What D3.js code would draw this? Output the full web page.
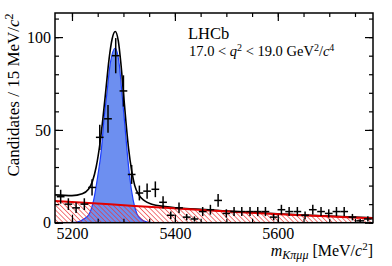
<!DOCTYPE html>
<html>
<head>
<meta charset="utf-8">
<script src="https://cdn.jsdelivr.net/npm/d3@7"></script>
<style>
  body { margin: 0; background: #fff; }
  text { font-family: "Liberation Serif", "DejaVu Serif", serif; fill: #000; }
</style>
</head>
<body>
<div id="chart"></div>
<script>
// bin centres [MeV/c2] and candidates per bin
const massBins = [5178, 5193, 5208, 5224, 5239, 5254, 5270, 5285, 5300, 5316,
                  5331, 5346, 5362, 5377, 5392, 5408, 5423, 5438, 5454, 5469,
                  5484, 5500, 5515, 5530, 5546, 5561, 5576, 5592, 5607, 5622,
                  5638, 5653, 5668, 5684, 5699, 5714, 5729, 5745, 5760, 5775];
const counts = [14, 10, 8, 10, 19, 46, 56, 90, 71, 26,
                16, 17, 18, 11, 4, 8, 3, 2, 6, 7,
                12, 5, 6, 6, 6, 6, 6, 3, 7, 6,
                6, 4, 7, 6, 5, 6, 6, 3, 1, 2];

// fit components as [mass, value]
const signalCurve = [[5196,0],[5212,0.5],[5223,2],[5234,5],[5242,12],[5250,25],[5257,39],
                     [5262,55],[5268,70],[5274,85],[5284,94],[5292,85],[5297,70],[5302,55],
                     [5307,39],[5312,25],[5319,12],[5326,5],[5334,2],[5344,0.5],[5356,0]];
const bkgCurve = [[5167,11.7],[5274,9.9],[5381,8.0],[5488,6.3],[5585,4.8],[5682,3.6],[5785,2.4]];
const totalCurve = [[5167,15],[5200,14.6],[5220,15.6],[5232,18],[5240,22.5],[5247,30],[5254,42],
                    [5260,56],[5266,72],[5272,88],[5278,99],[5284,103],[5290,98],[5295,86],
                    [5300,70],[5305,54],[5310,40],[5316,28],[5322,20],[5330,15],[5340,12],
                    [5355,10],[5381,8.7],[5450,7.2],[5550,5.5],[5650,4.1],[5785,2.7]];

const xTicks = [5200, 5400, 5600];
const yTicks = [0, 50, 100];
const binWidth = 15;

const W = 392, H = 266;
const margin = {top: 13, right: 19, bottom: 43.3, left: 55};
const width = W - margin.left - margin.right,
      height = H - margin.top - margin.bottom;

const svg = d3.select("#chart").append("svg")
  .attr("width", W).attr("height", H)
  .append("g")
  .attr("transform", `translate(${margin.left},${margin.top})`);

const x = d3.scaleLinear().domain([5167, 5785]).range([0, width]);
const y = d3.scaleLinear().domain([0, 113]).range([height, 0]);

// hatch pattern for the background component
const defs = svg.append("defs");
defs.append("pattern")
  .attr("id", "hatch")
  .attr("patternUnits", "userSpaceOnUse")
  .attr("width", 3.4).attr("height", 3.4)
  .attr("patternTransform", "rotate(-45)")
  .append("line")
  .attr("x1", 0).attr("y1", 0).attr("x2", 0).attr("y2", 3.4)
  .attr("stroke", "#f03030").attr("stroke-width", 1.3);
defs.append("clipPath").attr("id", "clip")
  .append("rect").attr("width", width).attr("height", height);

const plot = svg.append("g").attr("clip-path", "url(#clip)");

// signal (blue)
plot.append("path")
  .datum(signalCurve)
  .attr("d", d3.area().x(d => x(d[0])).y0(y(0)).y1(d => y(d[1])).curve(d3.curveMonotoneX))
  .attr("fill", "#6d8ff0");
plot.append("path")
  .datum(signalCurve)
  .attr("d", d3.line().x(d => x(d[0])).y(d => y(d[1])).curve(d3.curveMonotoneX))
  .attr("fill", "none").attr("stroke", "#1a3cff").attr("stroke-width", 1.2);

// background (hatched red)
plot.append("path")
  .datum(bkgCurve)
  .attr("d", d3.area().x(d => x(d[0])).y0(y(0)).y1(d => y(d[1])).curve(d3.curveMonotoneX))
  .attr("fill", "url(#hatch)");

// total fit (black)
plot.append("path")
  .datum(totalCurve)
  .attr("d", d3.line().x(d => x(d[0])).y(d => y(d[1])).curve(d3.curveMonotoneX))
  .attr("fill", "none").attr("stroke", "#000").attr("stroke-width", 1.6);

plot.append("path")
  .datum(bkgCurve)
  .attr("d", d3.line().x(d => x(d[0])).y(d => y(d[1])).curve(d3.curveMonotoneX))
  .attr("fill", "none").attr("stroke", "#e00000").attr("stroke-width", 2);

// data points with sqrt(N) errors
const pts = svg.append("g").selectAll("g")
  .data(massBins.map((m, i) => ({m: m, n: counts[i]})))
  .enter().append("g")
  .attr("stroke", "#000").attr("stroke-width", 1.5);
pts.append("line")
  .attr("x1", d => x(d.m - binWidth / 2)).attr("x2", d => x(d.m + binWidth / 2))
  .attr("y1", d => y(d.n)).attr("y2", d => y(d.n));
pts.append("line")
  .attr("x1", d => x(d.m)).attr("x2", d => x(d.m))
  .attr("y1", d => y(d.n + Math.sqrt(d.n))).attr("y2", d => y(Math.max(0, d.n - Math.sqrt(d.n))));

// axes: ticks inside on all four sides
function styleAxis(g) {
  g.select(".domain").remove();
  g.selectAll("line").attr("stroke", "#000").attr("stroke-width", 1.2);
  g.selectAll("text").style("font-family", "Liberation Serif").style("font-size", "16px");
}
const xMinor = d3.range(5200, 5786, 50);
const yMinor = d3.range(0, 114, 10);

svg.append("g").attr("transform", `translate(0,${height})`)
  .call(d3.axisBottom(x).tickValues(xMinor).tickSize(-4).tickFormat("")).call(styleAxis);
svg.append("g").attr("transform", `translate(0,${height})`)
  .call(d3.axisBottom(x).tickValues(xTicks).tickSize(-8).tickPadding(5).tickFormat(d3.format("d"))).call(styleAxis);
svg.append("g")
  .call(d3.axisTop(x).tickValues(xMinor).tickSize(-4).tickFormat("")).call(styleAxis);
svg.append("g")
  .call(d3.axisTop(x).tickValues(xTicks).tickSize(-8).tickFormat("")).call(styleAxis);

svg.append("g")
  .call(d3.axisLeft(y).tickValues(yMinor).tickSize(-4).tickFormat("")).call(styleAxis);
svg.append("g")
  .call(d3.axisLeft(y).tickValues(yTicks).tickSize(-8).tickPadding(4)).call(styleAxis);
svg.append("g").attr("transform", `translate(${width},0)`)
  .call(d3.axisRight(y).tickValues(yMinor).tickSize(-4).tickFormat("")).call(styleAxis);
svg.append("g").attr("transform", `translate(${width},0)`)
  .call(d3.axisRight(y).tickValues(yTicks).tickSize(-8).tickFormat("")).call(styleAxis);

svg.append("rect")
  .attr("width", width).attr("height", height)
  .attr("fill", "none").attr("stroke", "#000").attr("stroke-width", 1.5);

// labels
const yl = svg.append("text")
  .attr("transform", `translate(${18.5 - margin.left},${95 - margin.top}) rotate(-90)`)
  .attr("text-anchor", "middle")
  .style("font-size", "17px");
yl.append("tspan").text("Candidates / 15 MeV/");
yl.append("tspan").style("font-style", "italic").text("c");
yl.append("tspan").attr("dy", -6).style("font-size", "12px").text("2");

const xl = svg.append("text")
  .attr("x", width).attr("y", 256 - margin.top)
  .attr("text-anchor", "end")
  .style("font-size", "16px");
xl.append("tspan").style("font-style", "italic").text("m");
xl.append("tspan").attr("dy", 3).style("font-style", "italic").style("font-size", "12px").text("Kπμμ");
xl.append("tspan").attr("dy", -3).text(" [MeV/");
xl.append("tspan").style("font-style", "italic").text("c");
xl.append("tspan").attr("dy", -6).style("font-size", "11px").text("2");
xl.append("tspan").attr("dy", 6).text("]");

svg.append("text")
  .attr("x", 188 - margin.left).attr("y", 39 - margin.top)
  .style("font-size", "16.5px")
  .text("LHCb");

const ql = svg.append("text")
  .attr("x", 189 - margin.left).attr("y", 56 - margin.top)
  .style("font-size", "14.5px");
ql.append("tspan").text("17.0 < ");
ql.append("tspan").style("font-style", "italic").text("q");
ql.append("tspan").attr("dy", -5).style("font-size", "10px").text("2");
ql.append("tspan").attr("dy", 5).text(" < 19.0 GeV");
ql.append("tspan").attr("dy", -5).style("font-size", "10px").text("2");
ql.append("tspan").attr("dy", 5).text("/");
ql.append("tspan").style("font-style", "italic").text("c");
ql.append("tspan").attr("dy", -5).style("font-size", "10px").text("4");
</script>
</body>
</html>
